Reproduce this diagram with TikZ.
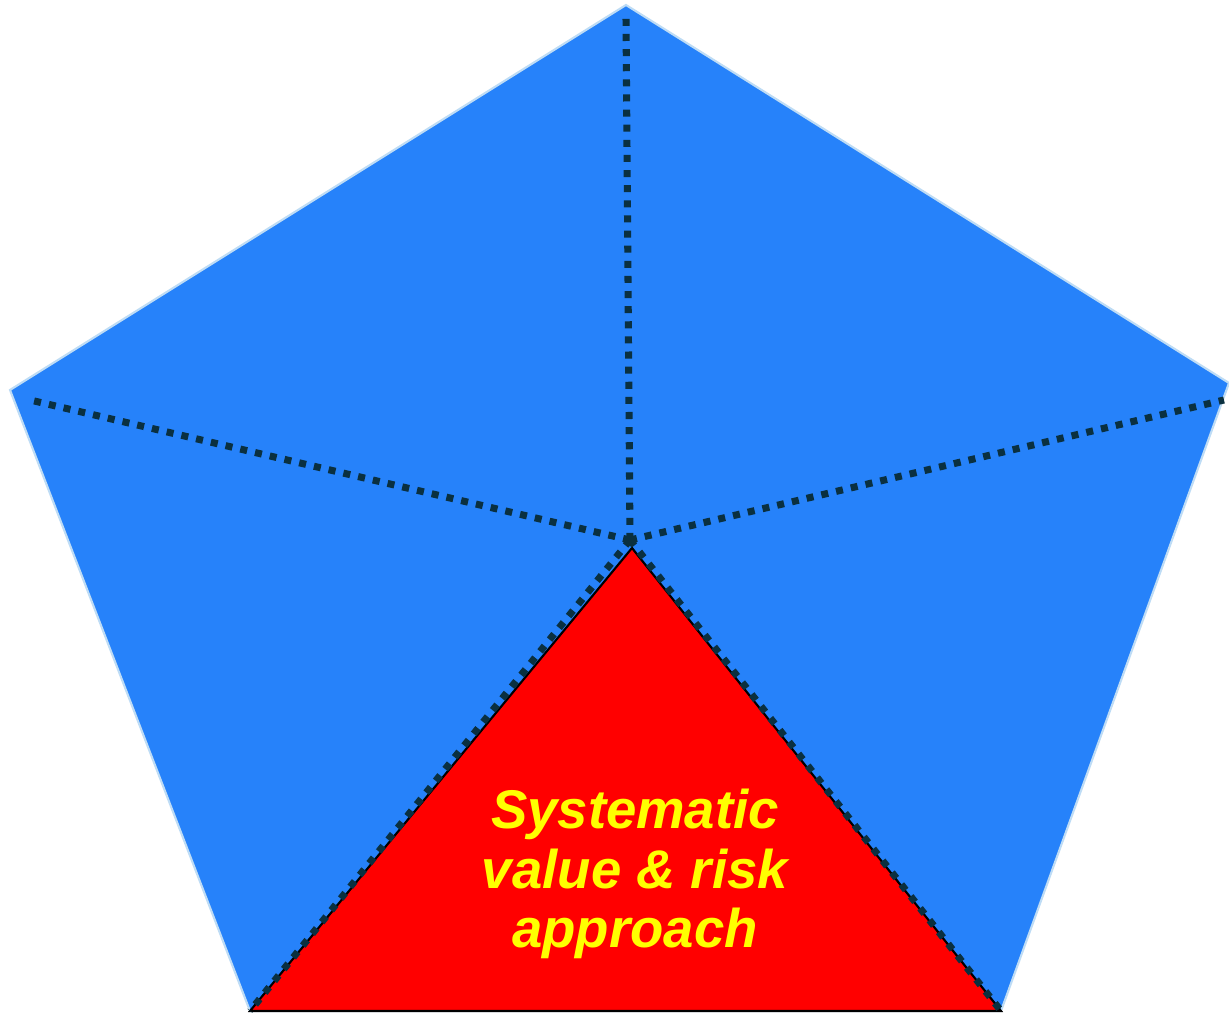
\documentclass[tikz,border=0pt]{standalone}
\usepackage{fontspec}
\setmainfont{Liberation Sans}
\usetikzlibrary{positioning,calc}
\definecolor{penta}{RGB}{38,130,250}
\definecolor{pentaedge}{RGB}{190,220,245}
\definecolor{dotline}{RGB}{10,48,64}
\definecolor{core}{RGB}{255,0,0}
\definecolor{corefont}{RGB}{255,255,0}
\begin{document}
\begin{tikzpicture}[
  x=0.01cm, y=-0.01cm,
  face/.style={fill=penta, draw=pentaedge, line width=0.6pt, line join=miter},
  spoke/.style={dotline, line width=2pt, dash pattern=on 2pt off 2.3pt},
  corebox/.style={fill=core, draw=black, line width=0.6pt},
  label/.style={text=corefont, font=\bfseries\itshape\fontsize{15.5}{16.9}\selectfont, align=center}
]
  \useasboundingbox (0,0) rectangle (1229,1013);

  % --- pentagon corners ---
  \coordinate (top) at (626,5);
  \coordinate (left) at (10,390);
  \coordinate (right) at (1229,383);
  \coordinate (bl) at (250,1011);
  \coordinate (br) at (1001,1011);
  \coordinate (hub) at (630,540);

  \draw[face] (top) -- (right) -- (br) -- (bl) -- (left) -- cycle;

  % --- red core triangle ---
  \coordinate (apex) at (632,548);
  \draw[corebox] (apex) -- (br) -- (bl) -- cycle;

  % dotted spokes from the hub
  \draw[spoke] (hub) -- (626,18);
  \draw[spoke] (hub) -- (30,400);
  \draw[spoke] (hub) -- (1224,400);
  \draw[spoke] (hub) -- (bl);
  \draw[spoke] (hub) -- (br);

  \node[label] (txt) at (635,874) {Systematic\\value \& risk\\approach};

\end{tikzpicture}
\end{document}
